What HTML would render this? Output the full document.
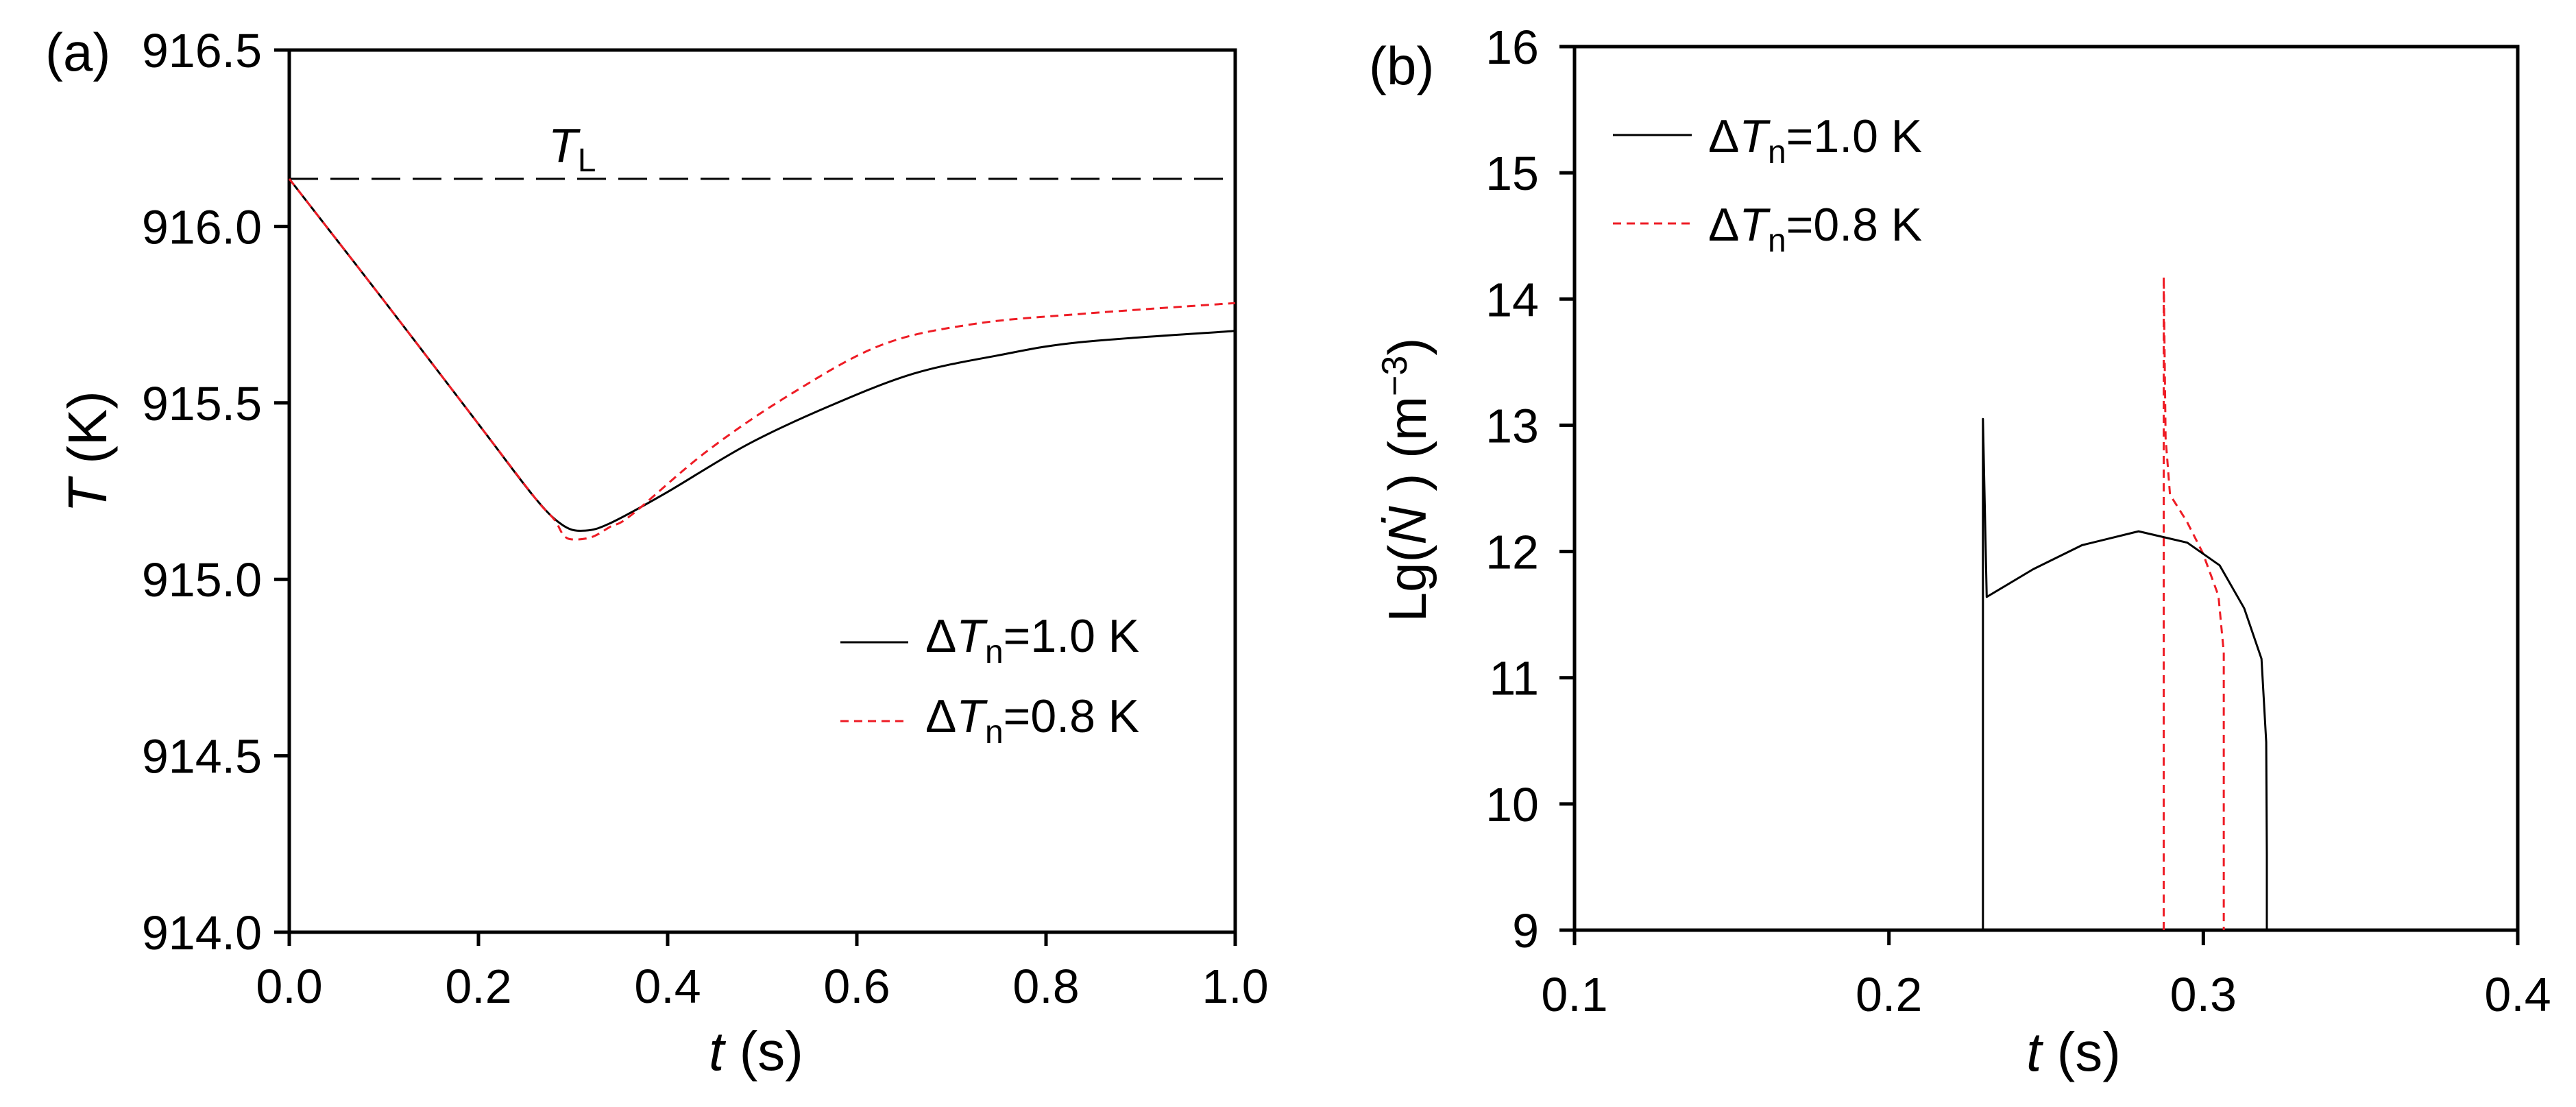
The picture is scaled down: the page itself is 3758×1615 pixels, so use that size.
<!DOCTYPE html>
<html><head><meta charset="utf-8"><style>
html,body{margin:0;padding:0;background:#fff;}
svg{display:block;font-family:"Liberation Sans",sans-serif;}
</style></head><body>
<svg id="fig" width="3758" height="1615" viewBox="0 0 3758 1615" xmlns="http://www.w3.org/2000/svg">
<g id="pa"></g>
<g id="pb"></g>
</svg>
<script>
// ---- Panel (a) data ----
const aXTicks = [0.0, 0.2, 0.4, 0.6, 0.8, 1.0];
const aYTicks = [914.0, 914.5, 915.0, 915.5, 916.0, 916.5];
const aTL = 916.135;
const aBlackT = [0, 0.1, 0.2, 0.26, 0.29, 0.313, 0.34, 0.397, 0.485, 0.572, 0.66, 0.748, 0.836, 1.0];
const aBlackV = [916.135, 915.79, 915.44, 915.23, 915.152, 915.138, 915.16, 915.243, 915.383, 915.492, 915.583, 915.634, 915.672, 915.704];
const aRedT = [0, 0.1, 0.2, 0.26, 0.28, 0.29, 0.30, 0.32, 0.34, 0.362, 0.441, 0.529, 0.625, 0.722, 0.836, 1.0];
const aRedV = [916.135, 915.79, 915.44, 915.23, 915.17, 915.125, 915.113, 915.12, 915.15, 915.183, 915.362, 915.523, 915.663, 915.723, 915.752, 915.783];
// ---- Panel (b) data ----
const bXTicks = [0.1, 0.2, 0.3, 0.4];
const bYTicks = [9, 10, 11, 12, 13, 14, 15, 16];
const bBlackT = [0.2299, 0.2299, 0.2311, 0.2459, 0.2614, 0.2794, 0.2949, 0.3052, 0.313, 0.3185, 0.3200, 0.3202, 0.3202];
const bBlackV = [9, 13.05, 11.64, 11.86, 12.05, 12.16, 12.07, 11.89, 11.55, 11.15, 10.49, 9.6, 9];
const bRedT = [0.2874, 0.2874, 0.2880, 0.2894, 0.2947, 0.2998, 0.3048, 0.3065, 0.3065];
const bRedV = [9, 14.18, 12.9, 12.45, 12.24, 11.99, 11.65, 11.2, 9];

const NS = "http://www.w3.org/2000/svg";
function mk(parent, tag, attrs, text) {
  const e = document.createElementNS(NS, tag);
  for (const k in attrs) e.setAttribute(k, attrs[k]);
  if (text !== undefined) e.textContent = text;
  parent.appendChild(e);
  return e;
}
function smoothPath(pts) {
  let d = 'M' + pts[0][0] + ',' + pts[0][1];
  for (let i = 0; i < pts.length - 1; i++) {
    const p0 = pts[i - 1] || pts[i], p1 = pts[i], p2 = pts[i + 1], p3 = pts[i + 2] || p2;
    const c1x = p1[0] + (p2[0] - p0[0]) / 6, c1y = p1[1] + (p2[1] - p0[1]) / 6;
    const c2x = p2[0] - (p3[0] - p1[0]) / 6, c2y = p2[1] - (p3[1] - p1[1]) / 6;
    d += ' C' + c1x + ',' + c1y + ' ' + c2x + ',' + c2y + ' ' + p2[0] + ',' + p2[1];
  }
  return d;
}

// ---------- Panel (a) ----------
(function () {
  const g = document.getElementById('pa');
  const X0 = 422, X1 = 1802, Y0 = 73, Y1 = 1360;
  const xs = t => X0 + (t - 0) / (1 - 0) * (X1 - X0);
  const ys = v => Y1 - (v - 914) / (916.5 - 914) * (Y1 - Y0);

  const frame = mk(g, 'rect', {x: X0, y: Y0, width: X1 - X0, height: Y1 - Y0, fill: 'none', stroke: '#000', 'stroke-width': 5});
  
  

  aXTicks.forEach(t => {
    const tk = mk(g, 'line', {x1: xs(t), x2: xs(t), y1: Y1, y2: Y1 + 20, stroke: '#000', 'stroke-width': 5});
    
    
    const lb = mk(g, 'text', {x: xs(t), y: 1463, 'font-size': 70, 'text-anchor': 'middle'}, t.toFixed(1));
    
    
  });
  aYTicks.forEach(v => {
    const tk = mk(g, 'line', {x1: X0 - 22, x2: X0, y1: ys(v), y2: ys(v), stroke: '#000', 'stroke-width': 5});
    
    
    const lb = mk(g, 'text', {x: 382, y: ys(v) + 25, 'font-size': 70, 'text-anchor': 'end'}, v.toFixed(1));
    
    
  });

  const tl = mk(g, 'line', {x1: X0, x2: X1, y1: ys(aTL), y2: ys(aTL), stroke: '#000', 'stroke-width': 3, 'stroke-dasharray': '42 18'});
  
  
  const tll = mk(g, 'text', {x: 800, y: ys(aTL) - 25, 'font-size': 70});
  
  
  mk(tll, 'tspan', {'font-style': 'italic'}, 'T');
  mk(tll, 'tspan', {'font-size': 48, dy: 14}, 'L');

  const blk = mk(g, 'path', {d: smoothPath(aBlackT.map((t, i) => [xs(t), ys(aBlackV[i])])), fill: 'none', stroke: '#000', 'stroke-width': 3});
  
  
  const red = mk(g, 'path', {d: smoothPath(aRedT.map((t, i) => [xs(t), ys(aRedV[i])])), fill: 'none', stroke: '#ee1c25', 'stroke-width': 3, 'stroke-dasharray': '12 8'});
  
  

  const l1 = mk(g, 'line', {x1: 1226, x2: 1325, y1: 937, y2: 937, stroke: '#000', 'stroke-width': 3});
  
  
  const l2 = mk(g, 'line', {x1: 1226, x2: 1325, y1: 1052, y2: 1052, stroke: '#ee1c25', 'stroke-width': 3, 'stroke-dasharray': '12 8'});
  
  
  [['1.0', 951], ['0.8', 1068]].forEach(([s, y]) => {
    const t = mk(g, 'text', {x: 1350, y: y, 'font-size': 68});
    
    
    mk(t, 'tspan', {}, 'Δ');
    mk(t, 'tspan', {'font-style': 'italic'}, 'T');
    mk(t, 'tspan', {'font-size': 48, dy: 16}, 'n');
    mk(t, 'tspan', {dy: -16}, '=' + s + ' K');
  });

  const xt = mk(g, 'text', {x: 1103, y: 1561, 'font-size': 80, 'text-anchor': 'middle'});
  
  
  mk(xt, 'tspan', {'font-style': 'italic'}, 't');
  mk(xt, 'tspan', {}, ' (s)');
  const yt = mk(g, 'text', {x: 0, y: 0, 'font-size': 80, 'text-anchor': 'middle', transform: 'translate(155,659) rotate(-90)'});
  
  
  mk(yt, 'tspan', {'font-style': 'italic'}, 'T');
  mk(yt, 'tspan', {}, '  (K)');
  const pl = mk(g, 'text', {x: 66, y: 103, 'font-size': 78}, '(a)');
  
  
})();

// ---------- Panel (b) ----------
(function () {
  const g = document.getElementById('pb');
  const X0 = 2297, X1 = 3673, Y0 = 68, Y1 = 1357;
  const xs = t => X0 + (t - 0.1) / (0.4 - 0.1) * (X1 - X0);
  const ys = v => Y1 - (v - 9) / (16 - 9) * (Y1 - Y0);

  const frame = mk(g, 'rect', {x: X0, y: Y0, width: X1 - X0, height: Y1 - Y0, fill: 'none', stroke: '#000', 'stroke-width': 5});
  
  

  bXTicks.forEach(t => {
    const tk = mk(g, 'line', {x1: xs(t), x2: xs(t), y1: Y1, y2: Y1 + 22, stroke: '#000', 'stroke-width': 5});
    
    
    const lb = mk(g, 'text', {x: xs(t), y: 1475, 'font-size': 70, 'text-anchor': 'middle'}, t.toFixed(1));
    
    
  });
  bYTicks.forEach(v => {
    const tk = mk(g, 'line', {x1: X0 - 22, x2: X0, y1: ys(v), y2: ys(v), stroke: '#000', 'stroke-width': 5});
    
    
    const lb = mk(g, 'text', {x: 2245, y: ys(v) + 25, 'font-size': 70, 'text-anchor': 'end'}, String(v));
    
    
  });

  const red = mk(g, 'polyline', {points: bRedT.map((t, i) => xs(t) + ',' + ys(bRedV[i])).join(' '), fill: 'none', stroke: '#ee1c25', 'stroke-width': 3, 'stroke-dasharray': '12 8'});
  
  
  const blk = mk(g, 'polyline', {points: bBlackT.map((t, i) => xs(t) + ',' + ys(bBlackV[i])).join(' '), fill: 'none', stroke: '#000', 'stroke-width': 3, 'stroke-linejoin': 'round'});
  
  

  const l1 = mk(g, 'line', {x1: 2353, x2: 2468, y1: 197, y2: 197, stroke: '#000', 'stroke-width': 3});
  
  
  const l2 = mk(g, 'line', {x1: 2353, x2: 2468, y1: 326, y2: 326, stroke: '#ee1c25', 'stroke-width': 3, 'stroke-dasharray': '12 8'});
  
  
  [['1.0', 222], ['0.8', 351]].forEach(([s, y]) => {
    const t = mk(g, 'text', {x: 2492, y: y, 'font-size': 68});
    
    
    mk(t, 'tspan', {}, 'Δ');
    mk(t, 'tspan', {'font-style': 'italic'}, 'T');
    mk(t, 'tspan', {'font-size': 48, dy: 16}, 'n');
    mk(t, 'tspan', {dy: -16}, '=' + s + ' K');
  });

  const xt = mk(g, 'text', {x: 3025, y: 1562, 'font-size': 80, 'text-anchor': 'middle'});
  
  
  mk(xt, 'tspan', {'font-style': 'italic'}, 't');
  mk(xt, 'tspan', {}, ' (s)');
  const yt = mk(g, 'text', {x: 0, y: 0, 'font-size': 78, 'text-anchor': 'middle', transform: 'translate(2080,700) rotate(-90)'});
  
  
  mk(yt, 'tspan', {}, 'Lg(');
  mk(yt, 'tspan', {'font-style': 'italic'}, 'Ṅ');
  mk(yt, 'tspan', {}, ' )  (m');
  mk(yt, 'tspan', {'font-size': 52, dy: -28}, '−3');
  mk(yt, 'tspan', {dy: 28}, ')');
  const pl = mk(g, 'text', {x: 1997, y: 123, 'font-size': 78}, '(b)');
  
  
})();
</script>
</body></html>
